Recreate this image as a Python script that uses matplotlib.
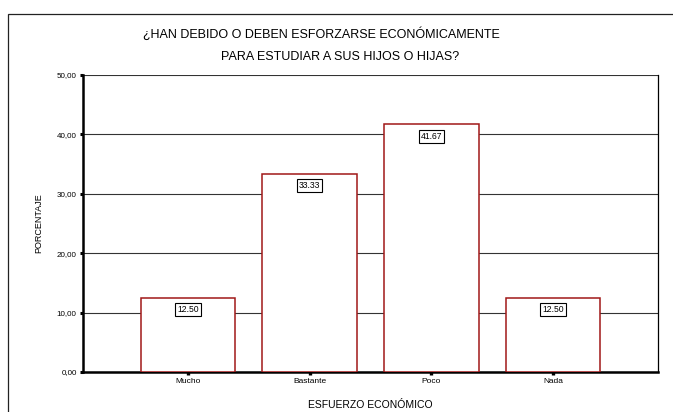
import matplotlib.pyplot as plt
from matplotlib.patches import Rectangle

categorias = ['Mucho', 'Bastante', 'Poco', 'Nada']
porcentajes = [12.50, 33.33, 41.67, 12.50]
yticks = [0, 10, 20, 30, 40, 50]
ytick_labels = ['0,00', '10,00', '20,00', '30,00', '40,00', '50,00']

plt.rcParams['font.family'] = ['Liberation Sans', 'DejaVu Sans']

fig = plt.figure(figsize=(6.73, 4.12), dpi=100)

# marco exterior (solo bordes superior e izquierdo visibles)
fig.patches.append(Rectangle((8 / 673, -0.1), 1.2, 1 - 14 / 412 + 0.1,
                             transform=fig.transFigure, fill=False,
                             edgecolor='#222222', linewidth=0.9))

ax = fig.add_axes([83 / 673, 1 - 372 / 412, 575 / 673, 297 / 412])

x = range(len(categorias))
ax.bar(x, porcentajes, width=0.78, color='white', edgecolor='#a01818',
       linewidth=1.1, zorder=3)

for xi, v in zip(x, porcentajes):
    ax.annotate(f'{v:.2f}', (xi, v), xytext=(0, -8.5), textcoords='offset points',
                ha='center', va='center', fontsize=6.2, zorder=4,
                bbox=dict(boxstyle='square,pad=0.22', fc='white', ec='black', lw=0.8))

ax.set_xlim(-0.863, 3.863)
ax.set_ylim(0, 50)
ax.set_yticks(yticks)
ax.set_yticklabels(ytick_labels, fontsize=5.8)
ax.set_xticks(list(x))
ax.set_xticklabels(categorias, fontsize=6)

ax.yaxis.grid(True, color='#333333', linewidth=0.8, zorder=0)
ax.set_axisbelow(True)

ax.spines['top'].set_visible(False)
ax.spines['left'].set_linewidth(1.8)
ax.spines['bottom'].set_linewidth(1.8)
ax.spines['right'].set_linewidth(0.9)

ax.tick_params(axis='y', direction='out', length=2.5, width=2.2, pad=2)
ax.tick_params(axis='x', direction='out', length=2.2, width=2.4, pad=2)

ax.set_ylabel('PORCENTAJE', fontsize=6.5, labelpad=10)
ax.set_xlabel('ESFUERZO ECONÓMICO', fontsize=7.5, labelpad=11)

fig.text(321 / 673, 1 - 34 / 412, '¿HAN DEBIDO O DEBEN ESFORZARSE ECONÓMICAMENTE',
         ha='center', va='center', fontsize=9)
fig.text(340 / 673, 1 - 57.5 / 412, 'PARA ESTUDIAR A SUS HIJOS O HIJAS?',
         ha='center', va='center', fontsize=9)

fig.savefig('out.png', dpi=100)
